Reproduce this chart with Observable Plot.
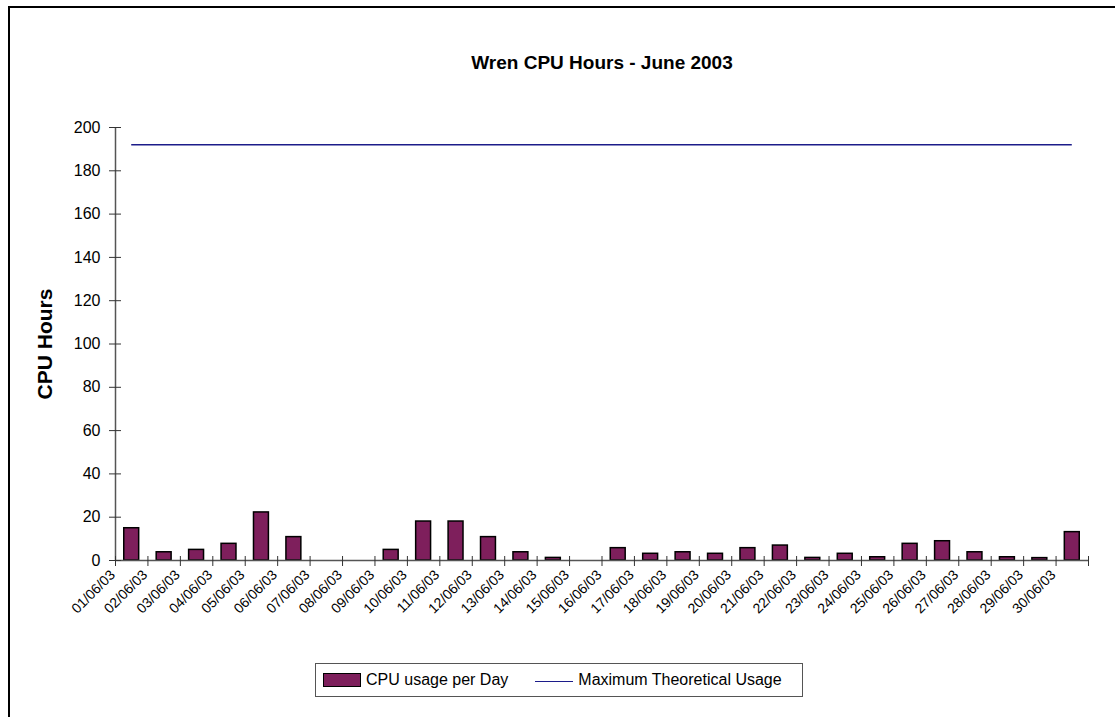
<!DOCTYPE html>
<html>
<head>
<meta charset="utf-8">
<script src="https://cdn.jsdelivr.net/npm/d3@7"></script>
<script src="https://cdn.jsdelivr.net/npm/@observablehq/plot@0.6"></script>
<style>
  html, body { margin: 0; padding: 0; background: #fff; }
  body { width: 1115px; height: 717px; overflow: hidden; position: relative; font-family: "Liberation Sans", Arial, sans-serif; }
  #frame { position: absolute; left: 8px; top: 6px; width: 1200px; height: 800px; border-top: 2px solid #000; border-left: 2px solid #000; box-sizing: border-box; }
  #chart { position: absolute; left: 0; top: 0; }
  #legend { position: absolute; left: 315px; top: 663px; width: 488px; height: 34px; border: 1px solid #555; box-sizing: border-box; background: #fff; display: flex; align-items: center; font-size: 16px; color: #000; white-space: nowrap; }
  .sw-bar { display: inline-block; width: 36px; height: 12px; background: #7e1f5c; border: 1.5px solid #000; margin-left: 7px; margin-right: 5px; }
  .sw-line { display: inline-block; width: 38px; height: 0; border-top: 1.5px solid #1c1c8a; margin-left: 27px; margin-right: 5px; position: relative; top: 1px; }
</style>
</head>
<body>
<div id="frame"></div>
<div id="chart"></div>
<div id="legend"><span class="sw-bar"></span><span>CPU usage per Day</span><span class="sw-line"></span><span>Maximum Theoretical Usage</span></div>
<script>
const dates = ["01/06/03","02/06/03","03/06/03","04/06/03","05/06/03","06/06/03","07/06/03","08/06/03","09/06/03","10/06/03",
               "11/06/03","12/06/03","13/06/03","14/06/03","15/06/03","16/06/03","17/06/03","18/06/03","19/06/03","20/06/03",
               "21/06/03","22/06/03","23/06/03","24/06/03","25/06/03","26/06/03","27/06/03","28/06/03","29/06/03","30/06/03"];
const cpuHours = [14.9, 3.8, 4.9, 7.7, 22.2, 10.8, 0, 0, 4.9, 18,
                  18, 10.8, 3.8, 1.2, 0, 5.7, 3.1, 3.8, 3.1, 5.7,
                  6.9, 1.2, 3.1, 1.5, 7.7, 8.9, 3.8, 1.5, 1.1, 13.1];
const maxUsage = 192;
const yTicks = [0, 20, 40, 60, 80, 100, 120, 140, 160, 180, 200];
const title = "Wren CPU Hours - June 2003";
const yLabel = "CPU Hours";

const days = dates.map((d, i) => ({date: d, idx: i + 1, value: cpuHours[i]}));
const centers = days.map(d => d.idx);
const bounds = d3.range(0, dates.length + 1).map(k => k + 0.5);

const barHalf = 0.23;
const font = "'Liberation Sans', Arial, sans-serif";

const chart = Plot.plot({
  width: 1115,
  height: 717,
  marginLeft: 115,
  marginRight: 27,
  marginTop: 127,
  marginBottom: 157,
  style: {fontFamily: font, color: "#000", background: "transparent"},
  x: {type: "linear", domain: [0.5, dates.length + 0.5]},
  y: {domain: [0, 200]},
  marks: [
    Plot.rectY(days, {x1: d => d.idx - barHalf, x2: d => d.idx + barHalf, y: "value", fill: "#7e1f5c", stroke: "#000", strokeWidth: 1.5}),
    Plot.ruleX([0.5], {y1: 0, y2: 200, stroke: "#555", strokeWidth: 1.5}),
    Plot.ruleY([0], {stroke: "#555", strokeWidth: 1.5}),
    Plot.ruleY([maxUsage], {x1: 1, x2: dates.length, stroke: "#1c1c8a", strokeWidth: 1.5}),
    Plot.axisY({ticks: yTicks, tickSize: 12, dx: 6, tickPadding: 9, label: null, fontSize: 16, stroke: "#333"}),
    Plot.axisX({ticks: bounds, tickSize: 10, dy: -4, tickFormat: () => "", label: null, stroke: "#333"}),
    Plot.axisX({ticks: centers, tickSize: 0, tickPadding: 12, dx: -19, tickRotate: -45, tickFormat: i => dates[i - 1], label: null, fontSize: 14}),
    Plot.text([title], {frameAnchor: "top", dy: -72, fontSize: 19, fontWeight: "bold", fill: "#000"}),
    Plot.text([yLabel], {frameAnchor: "left", dx: -70, rotate: -90, textAnchor: "middle", fontSize: 21, fontWeight: "bold", fill: "#000"})
  ]
});
document.getElementById("chart").appendChild(chart);
</script>
</body>
</html>
